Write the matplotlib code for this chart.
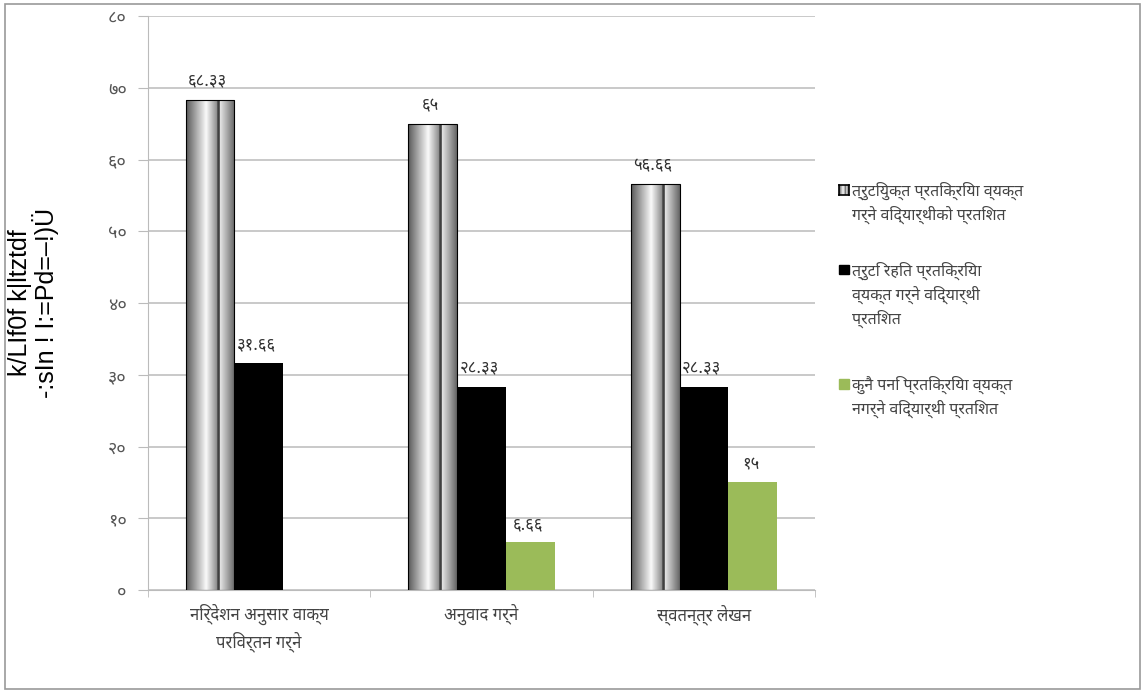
import numpy as np
import matplotlib
matplotlib.use("Agg")
import matplotlib.pyplot as plt
from matplotlib.patches import Rectangle

# data
categories = ["निर्देशन अनुसार वाक्य\nपरिवर्तन गर्ने", "अनुवाद गर्ने", "स्वतन्त्र लेखन"]
series_names = [
    "त्रुटियुक्त प्रतिक्रिया व्यक्त\nगर्ने विद्यार्थीको प्रतिशत",
    "त्रुटि रहित प्रतिक्रिया\nव्यक्त गर्ने विद्यार्थी\nप्रतिशत",
    "कुनै पनि प्रतिक्रिया व्यक्त\nनगर्ने विद्यार्थी प्रतिशत",
]
with_errors = [68.33, 65, 56.66]
without_errors = [31.66, 28.33, 28.33]
no_response = [0, 6.66, 15]
label_with = ["६८.३३", "६५", "५६.६६"]
label_without = ["३१.६६", "२८.३३", "२८.३३"]
label_none = ["", "६.६६", "१५"]
yticks = [0, 10, 20, 30, 40, 50, 60, 70, 80]
ytick_labels = ["०", "१०", "२०", "३०", "४०", "५०", "६०", "७०", "८०"]

DEVA = ["Noto Sans Devanagari", "DejaVu Sans"]
plt.rcParams["font.family"] = DEVA

fig = plt.figure(figsize=(11.45, 6.93), dpi=100)
ax = fig.add_axes([0.129, 0.1486, 0.583, 0.828])

x = np.arange(len(categories))
w = 0.22

# gray cylinder-like shading for first series
shade = np.concatenate([
    np.linspace(0.35, 0.97, 40),
    np.linspace(0.97, 0.55, 22),
    np.full(5, 0.25),
    np.linspace(0.9, 0.4, 30),
])[None, :]

gray_bars = ax.bar(x - w, with_errors, w, color="none", edgecolor="black", linewidth=0.8, zorder=3)
for b in gray_bars:
    im = ax.imshow(shade, cmap="gray", vmin=0, vmax=1, aspect="auto",
                   extent=[b.get_x(), b.get_x() + b.get_width(), 0, b.get_height()], zorder=2)
    im.set_clip_path(b)
black_bars = ax.bar(x, without_errors, w, color="black", zorder=3)
green_bars = ax.bar(x + w, no_response, w, color="#9BBB59", zorder=3)

for bars, labels in [(gray_bars, label_with), (black_bars, label_without), (green_bars, label_none)]:
    for b, t in zip(bars, labels):
        ax.text(b.get_x() + b.get_width() * 0.45, b.get_height() + 1.3, t,
                ha="center", va="bottom", fontsize=12, color="#333333")

ax.set_xlim(-0.5, 2.5)
ax.set_ylim(0, 80)
ax.set_yticks(yticks)
ax.set_yticklabels(ytick_labels, fontsize=13, color="#555555")
ax.set_xticks(x)
ax.set_xticklabels(categories, fontsize=12, color="#444444", linespacing=1.4)
ax.tick_params(axis="x", length=0, pad=10)
ax.tick_params(axis="y", length=7, color="#bbbbbb", pad=8)
ax.set_xticks([-0.5, 0.5, 1.5, 2.5], minor=True)
ax.tick_params(axis="x", which="minor", length=5, color="#bbbbbb")
ax.yaxis.grid(True, color="#c0c0c0", linewidth=1.2, zorder=0)
ax.set_axisbelow(True)
for s in ["top", "right"]:
    ax.spines[s].set_visible(False)
for s in ["left", "bottom"]:
    ax.spines[s].set_color("#bbbbbb")

ax.set_ylabel("k/LIf0f k|ltztdf\n-:sIn ! I:=Pd=–!)Ü", fontsize=18,
              family=["Liberation Sans", "DejaVu Sans"], linespacing=1.0)
ax.yaxis.set_label_coords(-0.133, 0.5)

# legend drawn by hand on the figure
leg_y = [0.725, 0.61, 0.445]
handles_x = 0.733
for i, (name, yy) in enumerate(zip(series_names, leg_y)):
    if i == 0:
        sq = fig.add_axes([handles_x, yy - 0.006, 0.0085, 0.014])
        sq.imshow(shade, cmap="gray", vmin=0, vmax=1, aspect="auto")
        sq.set_xticks([]); sq.set_yticks([])
        for sp in sq.spines.values():
            sp.set_linewidth(1.2)
    else:
        color = "black" if i == 1 else "#9BBB59"
        fig.patches.append(Rectangle((handles_x, yy - 0.006), 0.0085, 0.014,
                                     transform=fig.transFigure, color=color))
    fig.text(handles_x + 0.011, yy + 0.013, name, ha="left", va="top",
             fontsize=11.5, color="#444444", linespacing=1.4)

# outer frame
fig.patches.append(Rectangle((0.004, 0.006), 0.992, 0.988, transform=fig.transFigure,
                             fill=False, edgecolor="#999999", linewidth=1.2))

fig.savefig("out.png", dpi=100)
